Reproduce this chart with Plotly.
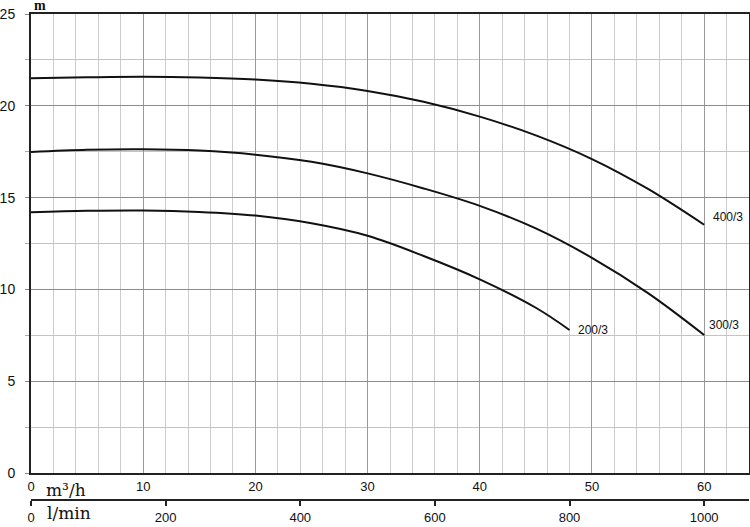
import plotly.graph_objects as go

# Flow (m³/h) and head (m)
flow_400 = [0, 5, 10, 15, 20, 25, 30, 35, 40, 45, 50, 55, 60]
head_400 = [21.5, 21.55, 21.58, 21.54, 21.43, 21.2, 20.81, 20.22, 19.41, 18.39, 17.1, 15.47, 13.52]

flow_300 = [0, 5, 10, 15, 20, 25, 30, 35, 40, 45, 50, 55, 60]
head_300 = [17.48, 17.6, 17.63, 17.56, 17.34, 16.95, 16.32, 15.5, 14.55, 13.32, 11.72, 9.8, 7.52]

flow_200 = [0, 5, 10, 15, 20, 25, 30, 35, 40, 45, 48]
head_200 = [14.2, 14.28, 14.3, 14.22, 14.02, 13.6, 12.92, 11.82, 10.55, 9.0, 7.79]

curve_names = ["400/3", "300/3", "200/3"]

x_ticks_m3h = [0, 10, 20, 30, 40, 50, 60]
x_ticks_lmin = [0, 200, 400, 600, 800, 1000]
y_ticks = [0, 5, 10, 15, 20, 25]

X_MAX = 64
M3H_TO_LMIN = 1000 / 60

W, H = 750, 527
ML, MR, MT, MB = 31, 1, 14, 27
plot_bottom_px = 473
paper_h = H - MT - MB
y_dom0 = ((H - MB) - plot_bottom_px) / paper_h

TEXT = "#111111"
LINE = "#222222"

fig = go.Figure()

series = [(flow_400, head_400), (flow_300, head_300), (flow_200, head_200)]
for name, (fx, hy) in zip(curve_names, series):
    fig.add_trace(go.Scatter(
        x=fx, y=hy, mode="lines", name=name,
        line=dict(color="#111111", width=2, shape="spline", smoothing=1.0),
        hoverinfo="x+y+name", showlegend=False,
    ))

# invisible trace to carry the l/min axis
fig.add_trace(go.Scatter(
    x=[v * M3H_TO_LMIN for v in flow_400], y=head_400,
    xaxis="x2", yaxis="y", mode="lines",
    line=dict(color="rgba(0,0,0,0)", width=0),
    hoverinfo="skip", showlegend=False,
))

# curve labels
label_offsets = [(0.6, 0.4), (0.3, 0.55), (0.6, 0.0)]
for name, (fx, hy), (dx, dy) in zip(curve_names, series, label_offsets):
    fig.add_annotation(
        x=fx[-1] + dx, y=hy[-1] + dy, xref="x", yref="y",
        text=name, showarrow=False, xanchor="left", yanchor="middle",
        font=dict(family="Liberation Sans, Arial, sans-serif", size=12, color=TEXT),
    )

serif = "DejaVu Serif, Liberation Serif, serif"
# unit labels
fig.add_annotation(
    x=(44 - ML) / (W - ML - MR), y=(H - MB - 490) / paper_h,
    xref="paper", yref="paper", text="m³/h", showarrow=False,
    xanchor="left", yanchor="middle",
    font=dict(family=serif, size=17, color=TEXT),
)
fig.add_annotation(
    x=(45 - ML) / (W - ML - MR), y=(H - MB - 513) / paper_h,
    xref="paper", yref="paper", text="l/min", showarrow=False,
    xanchor="left", yanchor="middle",
    font=dict(family=serif, size=17, color=TEXT),
)
fig.add_annotation(
    x=(32 - ML) / (W - ML - MR), y=1, yshift=-1,
    xref="paper", yref="paper", text="<b>m</b>", showarrow=False,
    xanchor="left", yanchor="bottom", height=12, valign="bottom",
    font=dict(family="Liberation Serif, serif", size=14, color=TEXT),
)

tick_font = dict(family="Liberation Sans, Arial, sans-serif", size=13, color=TEXT)

fig.update_layout(
    width=W, height=H,
    margin=dict(l=ML, r=MR, t=MT, b=MB, pad=0, autoexpand=False),
    paper_bgcolor="white", plot_bgcolor="white",
    showlegend=False,
    xaxis=dict(
        range=[0, X_MAX], tickvals=x_ticks_m3h, ticktext=[str(v) for v in x_ticks_m3h],
        showgrid=True, gridcolor="#9a9a9a", gridwidth=1,
        minor=dict(dtick=2, tick0=0, showgrid=True, gridcolor="#cccccc", gridwidth=1, ticks=""),
        showline=True, linecolor=LINE, linewidth=2, mirror=True,
        ticks="", zeroline=False, tickfont=tick_font, anchor="y", automargin=False,
    ),
    xaxis2=dict(
        range=[0, X_MAX * M3H_TO_LMIN], tickvals=x_ticks_lmin,
        ticktext=[str(v) for v in x_ticks_lmin],
        overlaying="x", anchor="free", position=0, side="bottom",
        showgrid=False, zeroline=False,
        showline=True, linecolor=LINE, linewidth=2,
        ticks="outside", ticklen=5, tickwidth=2, tickcolor=LINE,
        tickfont=tick_font, automargin=False,
    ),
    yaxis=dict(
        range=[0, 25], tickvals=y_ticks, domain=[y_dom0, 1],
        showgrid=True, gridcolor="#8c8c8c", gridwidth=1,
        minor=dict(dtick=2.5, tick0=0, showgrid=True, gridcolor="#c4c4c4", gridwidth=1,
                   ticks="outside", ticklen=4, tickcolor="#aaaaaa"),
        ticks="outside", ticklen=4, tickcolor="#888888", ticklabelstandoff=7,
        showline=True, linecolor=LINE, linewidth=2, mirror=True, automargin=False,
        zeroline=False, tickfont=dict(family="Liberation Sans, Arial, sans-serif", size=14, color=TEXT),
    ),
)

fig.write_html(
    "out.html",
    config={"displayModeBar": False},
    post_script="document.body.style.margin='0';document.body.style.overflow='hidden';",
)
